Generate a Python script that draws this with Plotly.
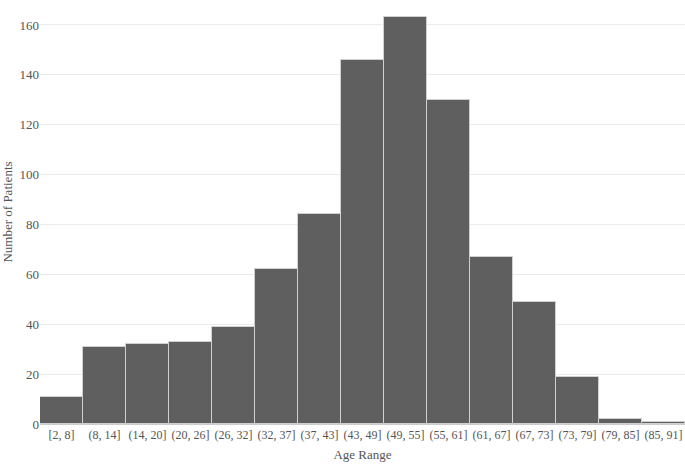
import plotly.graph_objects as go

age_ranges = ["[2, 8]", "(8, 14]", "(14, 20]", "(20, 26]", "(26, 32]", "(32, 37]", "(37, 43]",
              "(43, 49]", "(49, 55]", "(55, 61]", "(61, 67]", "(67, 73]", "(73, 79]", "(79, 85]", "(85, 91]"]
patients = [11, 31, 32, 33, 39, 62, 84, 146, 163, 130, 67, 49, 19, 2, 1]

fig = go.Figure()
fig.add_trace(go.Bar(
    x=age_ranges, y=patients,
    marker=dict(color='#5f5f5f', line=dict(color='#d0d0d0', width=1)),
    showlegend=False))

fig.update_layout(
    width=685, height=464,
    margin=dict(l=40, r=0, t=0, b=40, autoexpand=False),
    plot_bgcolor='white', paper_bgcolor='white',
    bargap=0,
    font=dict(family='Liberation Serif', size=13, color='#555555'),
    xaxis=dict(title=dict(text='Age Range', standoff=8, font=dict(color='#555555', size=13)),
               tickfont=dict(size=12, color='#555555'), tickangle=0, automargin=False,
               showgrid=False, showline=True, linecolor='#cccccc', ticks=''),
    yaxis=dict(title=dict(text='Number of Patients', standoff=4, font=dict(color='#555555', size=13)),
               tickfont=dict(size=13, color='#555555'), automargin=False, range=[0, 170],
               tickvals=[0, 20, 40, 60, 80, 100, 120, 140, 160],
               gridcolor='#ebebeb', zeroline=False, ticks=''),
)

fig.write_html("out.html", config={'displayModeBar': False},
               post_script="document.body.style.margin='0';")
